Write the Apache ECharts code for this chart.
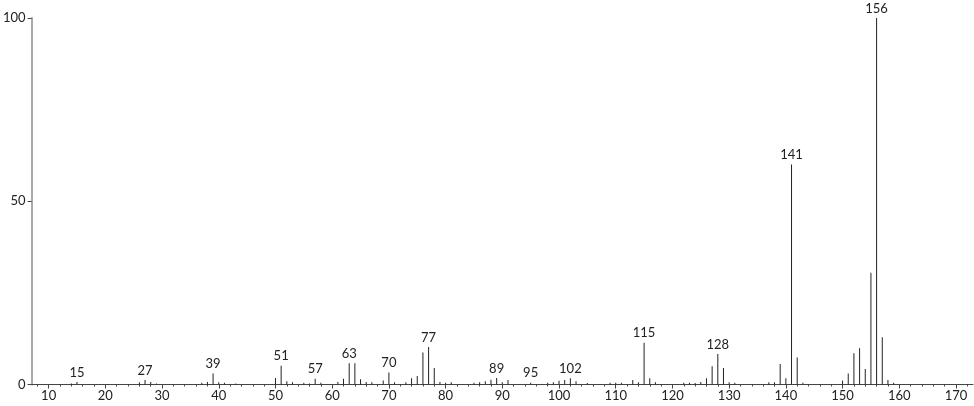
<!DOCTYPE html>
<html>
<head>
<meta charset="utf-8">
<script src="https://cdn.jsdelivr.net/npm/echarts@6/dist/echarts.min.js"></script>
<style>html,body{margin:0;padding:0;background:#fff}#c{width:974px;height:406px}</style>
</head>
<body>
<div id="c"></div>
<script>
var masses = [14,15,26,27,28,29,37,38,39,40,41,43,50,51,52,53,55,56,57,58,61,62,63,64,65,66,67,69,70,71,73,74,75,76,77,78,79,80,81,85,86,87,88,89,90,91,95,98,99,100,101,102,103,105,109,110,111,113,114,115,116,117,122,123,124,125,126,127,128,129,130,131,137,138,139,140,141,142,143,150,151,152,153,154,155,156,157,158,159];
var intensities = [0.3,0.7,0.6,1.2,0.7,0.3,0.5,0.7,3.0,0.6,0.5,0.3,1.8,5.1,0.9,0.6,0.5,0.3,1.6,0.5,0.7,1.6,5.8,5.8,1.4,0.7,0.6,1.1,3.3,0.6,0.6,1.7,2.3,8.7,10.2,4.5,0.7,0.5,0.6,0.5,0.6,0.9,1.3,1.8,0.6,1.2,0.5,0.5,0.6,1.0,1.2,1.7,0.9,0.4,0.5,0.5,0.5,1.2,0.6,11.4,1.7,0.6,0.5,0.5,0.4,0.7,1.7,5.0,8.3,4.5,0.6,0.5,0.6,0.6,5.6,1.7,60,7.4,0.5,1.1,3.0,8.5,9.9,4.2,30.5,100,12.9,1.2,0.5];
var labeledMasses = [15,27,39,51,57,63,70,77,89,95,102,115,128,141,156];
var xMajorTicks = [10,20,30,40,50,60,70,80,90,100,110,120,130,140,150,160,170];
var xMinorTicks = [8,12,14,16,18,22,24,26,28,32,34,36,38,42,44,46,48,52,54,56,58,62,64,66,68,72,74,76,78,82,84,86,88,92,94,96,98,102,104,106,108,112,114,116,118,122,124,126,128,132,134,136,138,142,144,146,148,152,154,156,158,162,164,166,168,172];
var yTicks = [0,50,100];

var FONT = 'Lato';
var data = masses.map(function(m, i){
  var item = {value:[m, intensities[i]]};
  if (labeledMasses.indexOf(m) >= 0) {
    item.label = {show:true, position:'top', distance:3, formatter: String(m), color:'#222', fontSize:13, fontFamily:FONT};
  }
  return item;
});

var chart = echarts.init(document.getElementById('c'));
chart.setOption({
  animation:false,
  grid:{left:29, right:1, top:18, bottom:21.5, containLabel:false},
  xAxis:[{
    type:'value', min:7, max:173,
    axisLine:{show:true, lineStyle:{color:'#444', width:1}},
    axisTick:{show:true, customValues:xMajorTicks, length:4, inside:false, lineStyle:{color:'#444'}},
    axisLabel:{customValues:xMajorTicks, margin:5, fontSize:13, color:'#222', fontFamily:FONT},
    splitLine:{show:false}
  },{
    type:'value', min:7, max:173, position:'bottom',
    axisLine:{show:false},
    axisTick:{show:true, customValues:xMinorTicks, length:2, lineStyle:{color:'#444'}},
    axisLabel:{show:false, customValues:xMinorTicks},
    splitLine:{show:false}
  }],
  yAxis:{
    type:'value', min:0, max:100,
    axisLine:{show:true, lineStyle:{color:'#aaa', width:2}},
    axisTick:{show:true, customValues:yTicks, length:4, lineStyle:{color:'#444'}},
    axisLabel:{customValues:yTicks, margin:6, fontSize:13, color:'#222', fontFamily:FONT},
    splitLine:{show:false}
  },
  series:[{
    type:'bar', xAxisIndex:0, barWidth:1,
    itemStyle:{color:'#222'},
    data:data
  }]
});
</script>
</body>
</html>
